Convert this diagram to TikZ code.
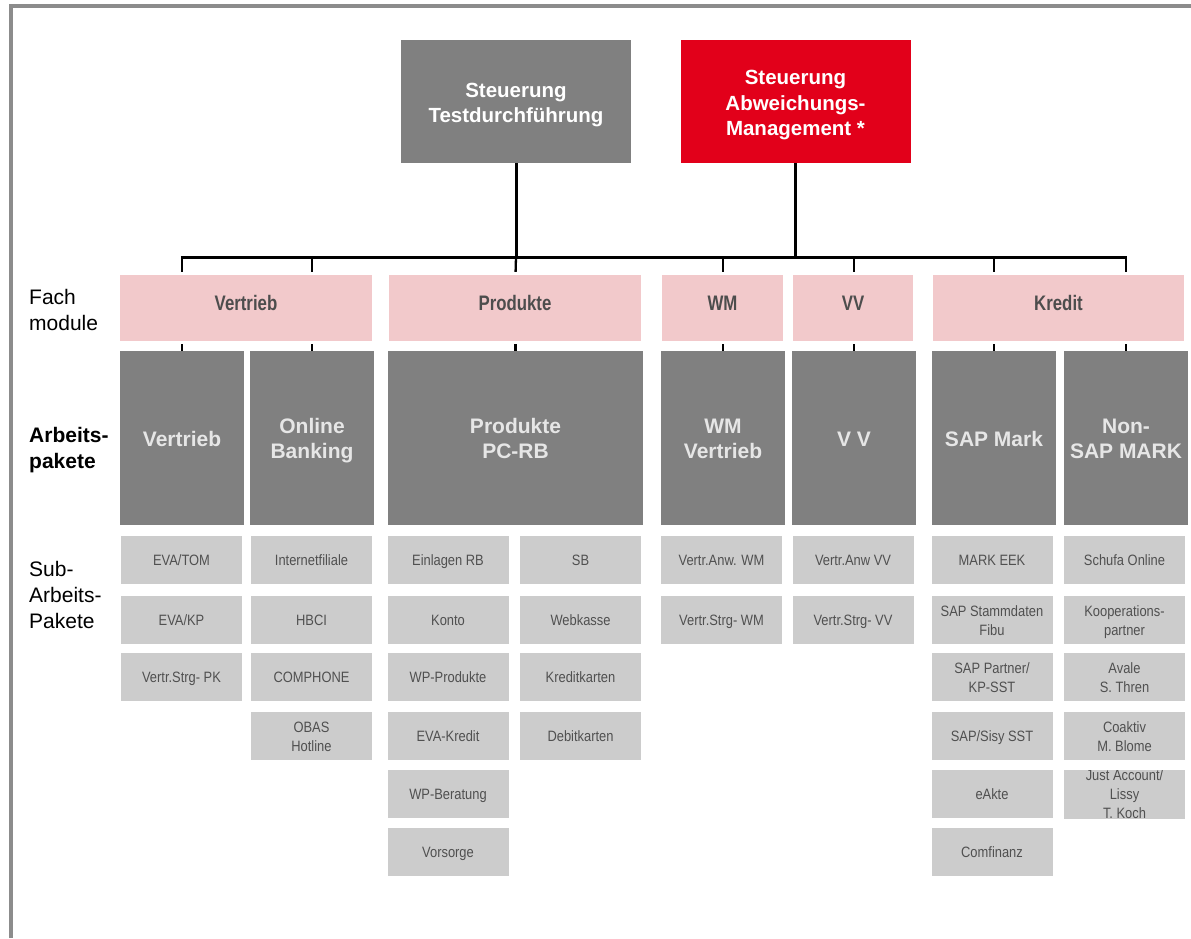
\documentclass[tikz,border=0pt]{standalone}
\usepackage{fontspec}
\setmainfont{Liberation Sans}
\newfontfamily\narrowfont[FakeStretch=0.86]{Liberation Sans}
\newfontfamily\condfont[FakeStretch=0.80]{Liberation Sans}

\definecolor{framegray}{HTML}{8C8C8C}
\definecolor{boxgray}{HTML}{808080}
\definecolor{boxred}{HTML}{E2001A}
\definecolor{modpink}{HTML}{F2C9CB}
\definecolor{subgray}{HTML}{CCCCCC}
\definecolor{subtext}{HTML}{505050}
\definecolor{pinktext}{HTML}{4D4D4D}
\definecolor{darktext}{HTML}{E6E6E6}

% give a block of lines a fixed height #1 above its first baseline
% and a fixed depth #2 below its last one, so it centres on line boxes
\newcommand\lowered[3]{\rule{0pt}{#1}#3\rule[-#2]{0pt}{#2}}
\newcommand\toptxt[1]{\lowered{24.85pt}{7.65pt}{#1}}
\newcommand\darktxt[1]{\lowered{23.5pt}{7.5pt}{#1}}
\newcommand\subtxt[1]{\lowered{17.3pt}{5.7pt}{#1}}

\begin{document}
\begin{tikzpicture}[x=1pt,y=-1pt,
  topbox/.style={draw=none, inner sep=0pt, minimum width=230, minimum height=123,
    align=center, text=white, font=\fontsize{20.5}{25.5}\selectfont\bfseries},
  topgray/.style={topbox, fill=boxgray},
  topred/.style={topbox, fill=boxred},
  pinkbox/.style={fill=modpink, inner sep=0pt, minimum height=66},
  pinklabel/.style={yshift=5pt, inner sep=0pt, text=pinktext,
    font=\condfont\fontsize{21}{25}\selectfont\bfseries},
  darkbox/.style={fill=boxgray, inner sep=0pt, minimum height=174, minimum width=124,
    align=center, text=darktext, font=\fontsize{21}{25}\selectfont\bfseries},
  subbox/.style={fill=subgray, inner sep=0pt, minimum width=121, minimum height=48,
    align=center, text=subtext, font=\narrowfont\fontsize{15}{19}\selectfont},
  sidelabel/.style={anchor=west, inner sep=0pt, align=left,
    font=\fontsize{21}{26}\selectfont},
  trunk/.style={line width=3pt, black},
  drop/.style={line width=2.3pt, black},
]
\useasboundingbox (0,0) rectangle (1191,938);
\fill[white] (0,0) rectangle (1191,938);

% frame along top and left edge
\draw[framegray, line width=3.5pt] (11,938) -- (11,6) -- (1191,6);

% steering boxes
\node[topgray] (tg) at (516,101.5) {\toptxt{Steuerung\\Testdurchführung}};
\node[topred]  (tr) at (795.5,101.5) {\toptxt{Steuerung\\Abweichungs-\\Management *}};

% junctions on the distribution bar
\coordinate (j1) at (182,257);
\coordinate (j2) at (312,257);
\coordinate (j3) at (516,257);
\coordinate (j4) at (723,257);
\coordinate (j5) at (854,257);
\coordinate (j6) at (994,257);
\coordinate (j7) at (1126,257);

\draw[trunk] (tg.south) -- (tg.south |- j1);
\draw[trunk] (tr.south) -- (tr.south |- j1);
\draw[trunk] ([xshift=-1.2pt]j1) -- ([xshift=1.2pt]j7);

% Fachmodule
\node[pinkbox, minimum width=252, label={[pinklabel]center:Vertrieb}] (p1) at (246,308) {};
\node[pinkbox, minimum width=252, label={[pinklabel]center:Produkte}] (p2) at (515,308) {};
\node[pinkbox, minimum width=121, label={[pinklabel]center:WM}] (p3) at (722.5,308) {};
\node[pinkbox, minimum width=120, label={[pinklabel]center:VV}] (p4) at (853,308) {};
\node[pinkbox, minimum width=251, label={[pinklabel]center:Kredit}] (p5) at (1058.5,308) {};

% Arbeitspakete
\node[darkbox] (a1) at (182,438) {\darktxt{Vertrieb}};
\node[darkbox] (a2) at (312,438) {\darktxt{Online\\Banking}};
\node[darkbox, minimum width=255] (a3) at (515.5,438) {\darktxt{Produkte\\PC-RB}};
\node[darkbox] (a4) at (723,438) {\darktxt{WM\\Vertrieb}};
\node[darkbox] (a5) at (854,438) {\darktxt{V V}};
\node[darkbox] (a6) at (994,438) {\darktxt{SAP Mark}};
\node[darkbox] (a7) at (1126,438) {\darktxt{Non-\\SAP MARK}};

% drops from the bar through the modules to the work packages
\foreach \a/\p/\j in {a1/p1/j1, a2/p1/j2, a3/p2/j3, a4/p3/j4, a5/p4/j5, a6/p5/j6, a7/p5/j7} {
  \draw[drop, shorten >=3pt] (\j) -- (\a |- \p.north);
  \draw[drop, shorten <=3pt] (\a |- \p.south) -- (\a.north);
}

% row labels
\node[sidelabel] (l1) at (29,310) {Fach\\module};
\node[sidelabel, font=\fontsize{21}{26}\selectfont\bfseries] (l2) at (29,450) {Arbeits-\\pakete};
\node[sidelabel] (l3) at (29,595) {Sub-\\Arbeits-\\Pakete};

% Sub-Arbeitspakete
\node[subbox] (s11) at (181.5,560) {\subtxt{EVA/TOM}};
\node[subbox] (s12) at (181.5,620) {\subtxt{EVA/KP}};
\node[subbox] (s13) at (181.5,677) {\subtxt{Vertr.Strg- PK}};

\node[subbox] (s21) at (311.5,560) {\subtxt{Internetfiliale}};
\node[subbox] (s22) at (311.5,620) {\subtxt{HBCI}};
\node[subbox] (s23) at (311.5,677) {\subtxt{COMPHONE}};
\node[subbox] (s24) at (311.5,736) {\subtxt{OBAS\\Hotline}};

\node[subbox] (s31) at (448,560) {\subtxt{Einlagen RB}};
\node[subbox] (s32) at (448,620) {\subtxt{Konto}};
\node[subbox] (s33) at (448,677) {\subtxt{WP-Produkte}};
\node[subbox] (s34) at (448,736) {\subtxt{EVA-Kredit}};
\node[subbox] (s35) at (448,794) {\subtxt{WP-Beratung}};
\node[subbox] (s36) at (448,852) {\subtxt{Vorsorge}};

\node[subbox] (s41) at (580.5,560) {\subtxt{SB}};
\node[subbox] (s42) at (580.5,620) {\subtxt{Webkasse}};
\node[subbox] (s43) at (580.5,677) {\subtxt{Kreditkarten}};
\node[subbox] (s44) at (580.5,736) {\subtxt{Debitkarten}};

\node[subbox] (s51) at (721.5,560) {\subtxt{Vertr.Anw. WM}};
\node[subbox] (s52) at (721.5,620) {\subtxt{Vertr.Strg- WM}};

\node[subbox] (s61) at (853,560) {\subtxt{Vertr.Anw VV}};
\node[subbox] (s62) at (853,620) {\subtxt{Vertr.Strg- VV}};

\node[subbox] (s71) at (992,560) {\subtxt{MARK EEK}};
\node[subbox] (s72) at (992,620) {\subtxt{SAP Stammdaten\\Fibu}};
\node[subbox] (s73) at (992,677) {\subtxt{SAP Partner/\\KP-SST}};
\node[subbox] (s74) at (992,736) {\subtxt{SAP/Sisy SST}};
\node[subbox] (s75) at (992,794) {\subtxt{eAkte}};
\node[subbox] (s76) at (992,852) {\subtxt{Comfinanz}};

\node[subbox] (s81) at (1124.5,560) {\subtxt{Schufa Online}};
\node[subbox] (s82) at (1124.5,620) {\subtxt{Kooperations-\\partner}};
\node[subbox] (s83) at (1124.5,677) {\subtxt{Avale\\S. Thren}};
\node[subbox] (s84) at (1124.5,736) {\subtxt{Coaktiv\\M. Blome}};
\begin{scope}
  \clip (1064,770) rectangle (1185,818);
  \node[subbox] (s85) at (1124.5,794) {\subtxt{Just Account/\\Lissy\\T. Koch}};
\end{scope}
\end{tikzpicture}
\end{document}
